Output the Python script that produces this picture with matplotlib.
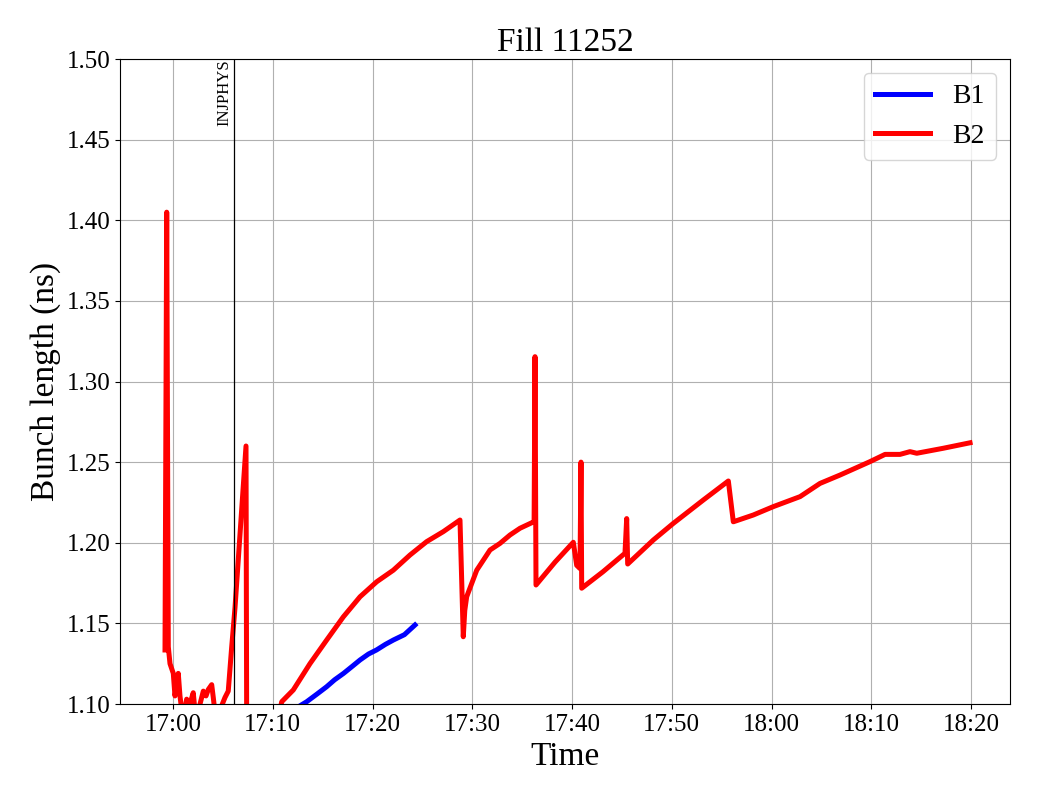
import matplotlib
matplotlib.use("Agg")
import matplotlib.pyplot as plt
import matplotlib.dates as mdates
import pandas as pd

plt.rcParams['font.family'] = ['Liberation Serif', 'DejaVu Serif']

BASE = "2024-06-01 17:00:00"

# minutes after 17:00, bunch length (ns)
b1_minutes = [11.7, 13.4, 14.4, 15.4, 16.2, 17.1, 18.0, 18.75, 19.6, 20.4, 21.3, 22.1, 23.2, 24.26]
b1_values = [1.095, 1.1014, 1.106, 1.1107, 1.115, 1.119, 1.1235, 1.1273, 1.131, 1.1335, 1.137,
             1.1397, 1.143, 1.149]

b2_minutes = [-0.80, -0.63, -0.47, -0.30, 0.03, 0.20, 0.53, 0.70, 1.0, 1.37, 1.70, 2.03,
              2.3, 3.04, 3.31, 3.54, 3.88, 4.04, 4.3, 5.21, 5.54, 5.88, 6.22, 7.32,
              7.39, 8.5, 10.5, 10.90, 12.06, 13.73, 15.41, 17.07, 18.75, 20.42, 22.09,
              23.76, 25.43, 27.10, 28.77, 29.10, 29.25, 29.44, 30.45, 31.78, 32.78, 33.78,
              34.79, 35.96, 36.20, 36.29, 36.39, 38.3, 40.13, 40.47, 40.80, 40.90, 40.97,
              43.1, 45.31, 45.48, 45.58, 48.15, 50.15, 53.16, 55.67, 56.17, 58.17, 60.18,
              62.86, 64.86, 66.87, 69.87, 71.38, 72.88, 73.88, 74.56, 77.22, 79.90]
b2_values = [1.1335, 1.405, 1.1355, 1.125, 1.119, 1.105, 1.119, 1.105, 1.09, 1.103, 1.10, 1.107,
             1.09, 1.108, 1.105, 1.109, 1.112, 1.104, 1.09, 1.104, 1.108, 1.135, 1.16, 1.26,
             1.08, 1.07, 1.09, 1.1014, 1.1087, 1.125, 1.1397, 1.154, 1.1665, 1.1758, 1.183,
             1.1924, 1.2007, 1.2069, 1.2141, 1.1417, 1.158, 1.1665, 1.183, 1.1955, 1.1996, 1.2048,
             1.209, 1.2124, 1.213, 1.3154, 1.1738, 1.188, 1.2003, 1.186, 1.184, 1.250, 1.1718,
             1.182, 1.1935, 1.215, 1.1868, 1.2017, 1.212, 1.2265, 1.2383, 1.213, 1.2172, 1.2224,
             1.2286, 1.2368, 1.242, 1.2503, 1.2548, 1.2548, 1.2565, 1.2555, 1.2586, 1.262]

event_minute = 6.1
event_label = "INJPHYS"
x_limits_minutes = [-5.31, 83.91]
y_limits = [1.10, 1.50]

base = pd.Timestamp(BASE)
def to_time(mins):
    return [base + pd.Timedelta(minutes=m) for m in mins]

fig = plt.figure(figsize=(10.4, 8), dpi=100)
ax = fig.add_axes([0.1154, 0.12, 0.8558, 0.80625])

ax.plot(to_time(b1_minutes), b1_values, color='blue', lw=3.6, label='B1')
ax.plot(to_time(b2_minutes), b2_values, color='red', lw=3.6, label='B2')

ev = base + pd.Timedelta(minutes=event_minute)
ax.axvline(ev, color='black', lw=0.9)
ax.text(ev - pd.Timedelta(minutes=0.15), 1.4995, event_label, rotation=90,
        ha='right', va='top', fontsize=12)

ax.set_xlim(to_time(x_limits_minutes))
ax.set_ylim(y_limits)
ax.xaxis.set_major_locator(mdates.MinuteLocator(byminute=range(0, 60, 10)))
ax.xaxis.set_major_formatter(mdates.DateFormatter('%H:%M'))
ax.set_yticks([1.10, 1.15, 1.20, 1.25, 1.30, 1.35, 1.40, 1.45, 1.50])
ax.yaxis.set_major_formatter(matplotlib.ticker.FormatStrFormatter('%.2f'))
ax.tick_params(labelsize=18)
ax.grid(True, color='#b0b0b0', lw=0.8)
ax.set_xlabel('Time', fontsize=24)
ax.set_ylabel('Bunch length (ns)', fontsize=24)
ax.set_title('Fill 11252', fontsize=24)
ax.legend(loc='upper right', fontsize=20)

fig.savefig('out.png', dpi=100)
